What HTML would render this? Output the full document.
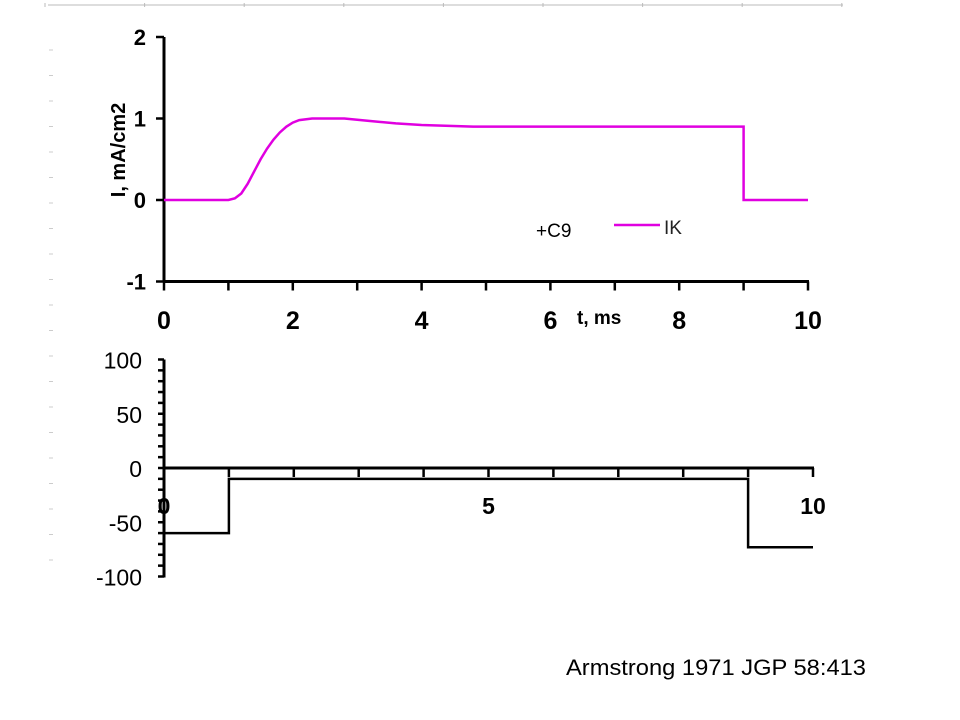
<!DOCTYPE html>
<html><head><meta charset="utf-8"><style>
html,body{margin:0;padding:0;background:#fff;}
svg{display:block;font-family:"Liberation Sans",Arial,sans-serif;}
</style></head><body>
<svg id="chart" width="960" height="720" viewBox="0 0 960 720">
<g id="deco"></g>
<g id="topchart"></g>
<g id="botchart"></g>
<text x="566" y="675" font-size="22" textLength="300" lengthAdjust="spacingAndGlyphs">Armstrong 1971 JGP 58:413</text>
</svg>
<script>
// Top chart data: IK current
const ikTime = [0,1,1.1,1.2,1.3,1.4,1.5,1.6,1.7,1.8,1.9,2.0,2.1,2.3,2.8,3.2,3.6,4.0,4.8,9,9,10];
const ikCurrent = [0,0,0.02,0.08,0.2,0.35,0.5,0.63,0.74,0.83,0.9,0.95,0.98,1.0,1.0,0.97,0.94,0.92,0.9,0.9,0,0];
const topYTicks = [2,1,0,-1];
const topXTicks = [0,2,4,6,8,10];
// Bottom chart data: voltage protocol
const vTime = [0,1,1,9,9,10];
const vVolt = [-60,-60,-10,-10,-73,-73];
const botYTicks = [100,50,0,-50,-100];
const botXLabels = [0,5,10];

const NS="http://www.w3.org/2000/svg";
function mk(tag,attrs,parent,txt){const e=document.createElementNS(NS,tag);for(const k in attrs)e.setAttribute(k,attrs[k]);if(txt!==undefined)e.textContent=txt;parent.appendChild(e);return e;}

const deco=document.getElementById('deco');
const topG=document.getElementById('topchart');
const botG=document.getElementById('botchart');

// decorative frame
let l=mk('line',{x1:48,y1:5,x2:843,y2:5,stroke:'#bbb','stroke-width':1},deco);


for(let i=0;i<9;i++){const x=45+i*99.6;let t=mk('line',{x1:x,y1:3,x2:x,y2:7,stroke:'#bbb'},deco);

}
for(let y=50;y<=585;y+=25.5){let d=mk('line',{x1:49,y1:y,x2:53,y2:y,stroke:'#ccc'},deco);

}

// top axes
const tx=v=>164+v*64.4, ty=v=>200-v*81.5;
let ax=mk('line',{x1:164,y1:ty(2),x2:164,y2:ty(-1)+1,stroke:'#000','stroke-width':3},topG);


ax=mk('line',{x1:163,y1:ty(-1),x2:tx(10)+1,y2:ty(-1),stroke:'#000','stroke-width':3},topG);


topYTicks.forEach(v=>{let t=mk('line',{x1:156,y1:ty(v),x2:164,y2:ty(v),stroke:'#000','stroke-width':2.5},topG);


let s=mk('text',{x:146,y:ty(v)+8,'font-size':22,'font-weight':'bold','text-anchor':'end'},topG,String(v));

});
for(let i=0;i<=10;i++){let t=mk('line',{x1:tx(i),y1:ty(-1),x2:tx(i),y2:ty(-1)+9,stroke:'#000','stroke-width':2.5},topG);

}
topXTicks.forEach(v=>{let s=mk('text',{x:tx(v),y:329,'font-size':25,'font-weight':'bold','text-anchor':'middle'},topG,String(v));

});
let yt=mk('text',{x:0,y:0,'font-size':20,'font-weight':'bold','text-anchor':'middle',transform:'translate(125,150) rotate(-90)'},topG,'I, mA/cm2');


let xt=mk('text',{x:577,y:324,'font-size':19,'font-weight':'bold'},topG,'t, ms');


let p=mk('polyline',{points:ikTime.map((t,i)=>tx(t)+','+ty(ikCurrent[i])).join(' '),fill:'none',stroke:'#e000e0','stroke-width':2.5},topG);


let c9=mk('text',{x:536,y:237,'font-size':19},topG,'+C9');


let ll=mk('line',{x1:614,y1:225,x2:660,y2:225,stroke:'#e000e0','stroke-width':2.5},topG);


let lt=mk('text',{x:664,y:234,'font-size':19,fill:'#222'},topG,'IK');



// bottom axes
const bx=v=>164+v*64.9, by=v=>468-v*1.085;
ax=mk('line',{x1:164,y1:by(100),x2:164,y2:by(-100)+1,stroke:'#000','stroke-width':3},botG);


ax=mk('line',{x1:164,y1:by(0),x2:bx(10)+1,y2:by(0),stroke:'#000','stroke-width':3},botG);


for(let v=-100;v<=100;v+=10){let t=mk('line',{x1:158,y1:by(v),x2:164,y2:by(v),stroke:'#000','stroke-width':2.5},botG);

}
botYTicks.forEach(v=>{let s=mk('text',{x:142,y:by(v)+9,'font-size':23,'text-anchor':'end'},botG,String(v));

});
for(let i=1;i<=10;i++){let t=mk('line',{x1:bx(i),y1:by(0),x2:bx(i),y2:by(0)+9,stroke:'#000','stroke-width':2.5},botG);

}
botXLabels.forEach(v=>{let s=mk('text',{x:bx(v),y:514,'font-size':23,'font-weight':'bold','text-anchor':'middle'},botG,String(v));

});
p=mk('polyline',{points:vTime.map((t,i)=>bx(t)+','+by(vVolt[i])).join(' '),fill:'none',stroke:'#000','stroke-width':2.5},botG);


</script>
</body></html>
